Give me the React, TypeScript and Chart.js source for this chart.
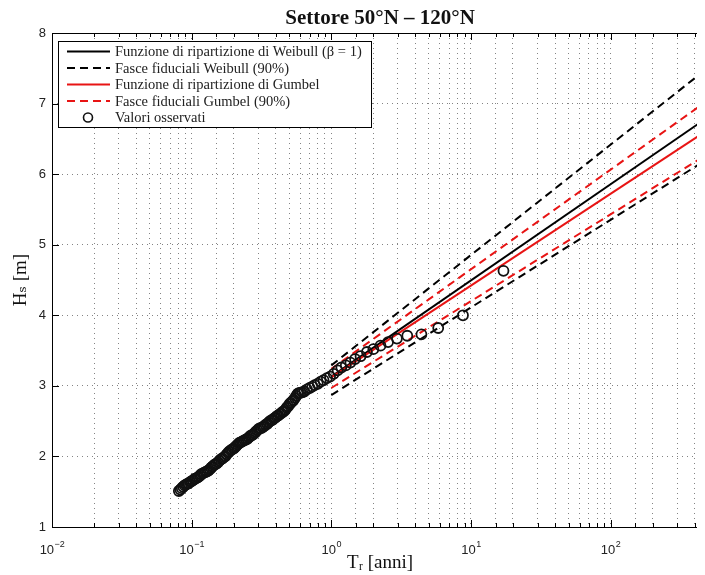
import React, { useEffect, useRef } from "react";
import { Chart, registerables } from "chart.js";

Chart.register(...registerables);

// ---------- data ----------
const obsT = [
  17.1, 8.77, 5.83, 4.42, 3.5, 2.95, 2.55, 2.25, 2.0, 1.8, 1.62, 1.48, 1.37, 1.27, 1.18, 1.11,
  1.04, 0.98, 0.93, 0.88, 0.84, 0.8, 0.76, 0.73, 0.7, 0.67, 0.64, 0.62,
  0.603, 0.589, 0.575, 0.562, 0.55, 0.537, 0.525, 0.513, 0.501, 0.49, 0.479, 0.468, 0.457, 0.447,
  0.437, 0.427, 0.417, 0.407, 0.398, 0.389, 0.38, 0.372, 0.363, 0.355, 0.347, 0.339, 0.331, 0.324,
  0.316, 0.309, 0.302, 0.295, 0.288, 0.282, 0.275, 0.269, 0.263, 0.257, 0.251, 0.245, 0.24, 0.234,
  0.229, 0.224, 0.219, 0.214, 0.209, 0.204, 0.2, 0.195, 0.191, 0.186, 0.182, 0.178, 0.174, 0.17,
  0.166, 0.162, 0.158, 0.155, 0.151, 0.148, 0.145, 0.141, 0.138, 0.135, 0.132, 0.129, 0.126, 0.123,
  0.12, 0.117, 0.115, 0.112, 0.11, 0.107, 0.105, 0.102, 0.1, 0.098, 0.095, 0.093, 0.091, 0.089,
  0.087, 0.085, 0.083, 0.081,
];
const obsH = [
  4.63, 4.0, 3.82, 3.73, 3.71, 3.67, 3.62, 3.57, 3.52, 3.48, 3.42, 3.38, 3.33, 3.29, 3.26, 3.22,
  3.17, 3.13, 3.11, 3.08, 3.06, 3.03, 3.01, 2.99, 2.97, 2.95, 2.92, 2.91,
  2.9, 2.9, 2.89, 2.86, 2.83, 2.8, 2.78, 2.76, 2.74, 2.71, 2.69, 2.66, 2.64, 2.63,
  2.61, 2.6, 2.58, 2.57, 2.55, 2.54, 2.52, 2.51, 2.5, 2.48, 2.46, 2.45, 2.43, 2.42,
  2.4, 2.4, 2.39, 2.37, 2.35, 2.33, 2.31, 2.3, 2.29, 2.27, 2.25, 2.24, 2.23, 2.22,
  2.21, 2.2, 2.19, 2.17, 2.15, 2.13, 2.11, 2.1, 2.09, 2.07, 2.05, 2.03, 2.0, 1.99,
  1.97, 1.96, 1.94, 1.92, 1.9, 1.89, 1.88, 1.86, 1.84, 1.82, 1.8, 1.79, 1.78, 1.77,
  1.76, 1.75, 1.73, 1.71, 1.7, 1.69, 1.68, 1.66, 1.65, 1.64, 1.62, 1.61, 1.6, 1.59,
  1.57, 1.55, 1.53, 1.51,
];

const lineT = [1, 500];
const weibullFit = [3.13, 6.81];
const weibullUpper = [3.29, 7.51];
const weibullLower = [2.87, 6.22];
const gumbelFit = [3.12, 6.63];
const gumbelUpper = [3.24, 7.05];
const gumbelLower = [2.97, 6.29];

const xMin = 0.01;
const xMax = 500;
const yMin = 1;
const yMax = 8;
const xDecades = [0.01, 0.1, 1, 10, 100];
const xDecadeExponents = ["-2", "-1", "0", "1", "2"];

const titleText = "Settore 50°N – 120°N";
const xTitle = "Tᵣ [anni]";
const yTitle = "Hₛ [m]";
const legendLabels = [
  "Funzione di ripartizione di Weibull (β = 1)",
  "Fasce fiduciali Weibull (90%)",
  "Funzione di ripartizione di Gumbel",
  "Fasce fiduciali Gumbel (90%)",
  "Valori osservati",
];

// ---------- styles ----------
const SERIF = '"Liberation Serif", "DejaVu Serif", serif';
const SANS = '"Liberation Sans", Arial, sans-serif';
const RED = "rgb(232,20,20)";
const BLACK = "#000";
const DASH = [8, 5];
const legendStyles = [
  { color: BLACK, dash: [] as number[], kind: "line" },
  { color: BLACK, dash: DASH, kind: "line" },
  { color: RED, dash: [] as number[], kind: "line" },
  { color: RED, dash: DASH, kind: "line" },
  { color: "#111", dash: [] as number[], kind: "marker" },
];

const pts = (xs: number[], ys: number[]) => xs.map((x, i) => ({ x, y: ys[i] }));

const lineDs = (label: string, ys: number[], color: string, dash: number[]) => ({
  label,
  data: pts(lineT, ys),
  showLine: true,
  borderColor: color,
  backgroundColor: color,
  borderWidth: 2,
  borderDash: dash,
  pointRadius: 0,
  pointHoverRadius: 0,
  fill: false,
});

const framePlugin = {
  id: "frame",
  afterDatasetsDraw(chart: any) {
    const { ctx, chartArea: a, scales } = chart;
    const xs = scales.x;
    const ys = scales.y;
    ctx.save();
    ctx.strokeStyle = "#000";
    ctx.lineWidth = 1;
    ctx.setLineDash([]);
    // inward ticks
    ctx.beginPath();
    xs.ticks.forEach((t: any) => {
      const px = Math.round(xs.getPixelForValue(t.value)) + 0.5;
      const isMajor = xDecades.some((d) => Math.abs(d - t.value) / d < 1e-6);
      const len = isMajor ? 7 : 4;
      ctx.moveTo(px, a.bottom);
      ctx.lineTo(px, a.bottom - len);
      ctx.moveTo(px, a.top);
      ctx.lineTo(px, a.top + len);
    });
    ys.ticks.forEach((t: any) => {
      const py = Math.round(ys.getPixelForValue(t.value)) + 0.5;
      ctx.moveTo(a.left, py);
      ctx.lineTo(a.left + 7, py);
      ctx.moveTo(a.right, py);
      ctx.lineTo(a.right - 7, py);
    });
    ctx.stroke();
    // box
    ctx.strokeRect(Math.round(a.left) + 0.5, Math.round(a.top) + 0.5, Math.round(a.right - a.left), Math.round(a.bottom - a.top));
    // x tick labels with superscript exponent
    ctx.fillStyle = "#222";
    ctx.textBaseline = "alphabetic";
    xDecades.forEach((v, i) => {
      const px = xs.getPixelForValue(v);
      ctx.font = `13px ${SANS}`;
      const wBase = ctx.measureText("10").width;
      ctx.font = `9px ${SANS}`;
      const exp = xDecadeExponents[i].replace("-", "−");
      const wExp = ctx.measureText(exp).width;
      const x0 = px - (wBase + wExp) / 2;
      ctx.font = `13px ${SANS}`;
      ctx.textAlign = "left";
      ctx.fillText("10", x0, a.bottom + 27);
      ctx.font = `9px ${SANS}`;
      ctx.fillText(exp, x0 + wBase + 0.5, a.bottom + 20);
    });
    ctx.restore();
  },
  afterDraw(chart: any) {
    const { ctx, chartArea: a } = chart;
    // title
    ctx.save();
    ctx.fillStyle = "#111";
    ctx.font = `bold 21px ${SERIF}`;
    ctx.textAlign = "center";
    ctx.textBaseline = "middle";
    ctx.fillText(titleText, (a.left + a.right) / 2, 11);

    // legend
    ctx.font = `14.5px ${SERIF}`;
    const maxW = Math.max(...legendLabels.map((l) => ctx.measureText(l).width));
    const bx = 50.5;
    const by = 33.5;
    const bw = Math.round(57 + maxW + 9);
    const bh = 86;
    ctx.fillStyle = "#fff";
    ctx.fillRect(bx, by, bw, bh);
    ctx.strokeStyle = "#000";
    ctx.lineWidth = 1;
    ctx.setLineDash([]);
    ctx.strokeRect(bx, by, bw, bh);
    legendLabels.forEach((lab, i) => {
      const st = legendStyles[i];
      const cy = by + 10 + i * 16.5;
      if (st.kind === "line") {
        ctx.strokeStyle = st.color;
        ctx.lineWidth = 2;
        ctx.setLineDash(st.dash);
        ctx.beginPath();
        ctx.moveTo(59, cy);
        ctx.lineTo(102, cy);
        ctx.stroke();
      } else {
        ctx.strokeStyle = st.color;
        ctx.lineWidth = 1.6;
        ctx.setLineDash([]);
        ctx.beginPath();
        ctx.arc(80, cy, 4.5, 0, Math.PI * 2);
        ctx.stroke();
      }
      ctx.fillStyle = "#222";
      ctx.textAlign = "left";
      ctx.textBaseline = "middle";
      ctx.fillText(lab, 107, cy + 1);
    });
    ctx.restore();
  },
};

export default function App() {
  const ref = useRef<HTMLCanvasElement | null>(null);

  useEffect(() => {
    document.documentElement.style.overflow = "hidden";
    const canvas = ref.current!;
    const gridCommon = {
      color: "rgba(110,110,110,0.85)",
      lineWidth: 1,
      drawTicks: false,
    };
    const chart = new Chart(canvas, {
      type: "scatter",
      data: {
        datasets: [
          {
            label: legendLabels[4],
            data: pts(obsT, obsH),
            pointStyle: "circle",
            pointRadius: 5,
            pointHoverRadius: 5,
            borderWidth: 1.8,
            borderColor: "#111",
            backgroundColor: "rgba(0,0,0,0)",
            showLine: false,
          } as any,
          lineDs(legendLabels[2], gumbelFit, RED, []),
          lineDs(legendLabels[3], gumbelUpper, RED, DASH),
          lineDs(legendLabels[3], gumbelLower, RED, DASH),
          lineDs(legendLabels[0], weibullFit, BLACK, []),
          lineDs(legendLabels[1], weibullUpper, BLACK, DASH),
          lineDs(legendLabels[1], weibullLower, BLACK, DASH),
        ],
      },
      options: {
        responsive: false,
        animation: false,
        devicePixelRatio: 1,
        layout: { padding: { top: 25, left: 0, right: 0, bottom: 0 } },
        plugins: {
          legend: { display: false },
          tooltip: { enabled: false },
          title: { display: false },
        },
        scales: {
          x: {
            type: "logarithmic",
            min: xMin,
            max: xMax,
            afterFit: (s: any) => {
              s.height = 48;
            },
            grid: gridCommon,
            border: { display: false, dash: [1, 4] },
            ticks: {
              autoSkip: false,
              maxRotation: 0,
              minRotation: 0,
              padding: 0,
              font: { size: 1 },
              callback: () => "",
            },
            title: {
              display: true,
              text: xTitle,
              color: "#111",
              font: { family: SERIF, size: 19 },
              padding: { top: 0, bottom: 1 },
            },
          },
          y: {
            type: "linear",
            min: yMin,
            max: yMax,
            afterFit: (s: any) => {
              s.width = 44;
            },
            grid: gridCommon,
            border: { display: false, dash: [1, 4] },
            ticks: {
              stepSize: 1,
              padding: 6,
              color: "#222",
              font: { family: SANS, size: 13 },
            },
            title: {
              display: true,
              text: yTitle,
              color: "#111",
              font: { family: SERIF, size: 19 },
              padding: { top: 2, bottom: 0 },
            },
          },
        },
      } as any,
      plugins: [framePlugin],
    });
    return () => chart.destroy();
  }, []);

  return (
    <div style={{ width: 697, height: 567, overflow: "hidden", position: "relative" }}>
      <canvas ref={ref} width={707} height={567} style={{ display: "block", width: 707, height: 567 }} />
    </div>
  );
}
